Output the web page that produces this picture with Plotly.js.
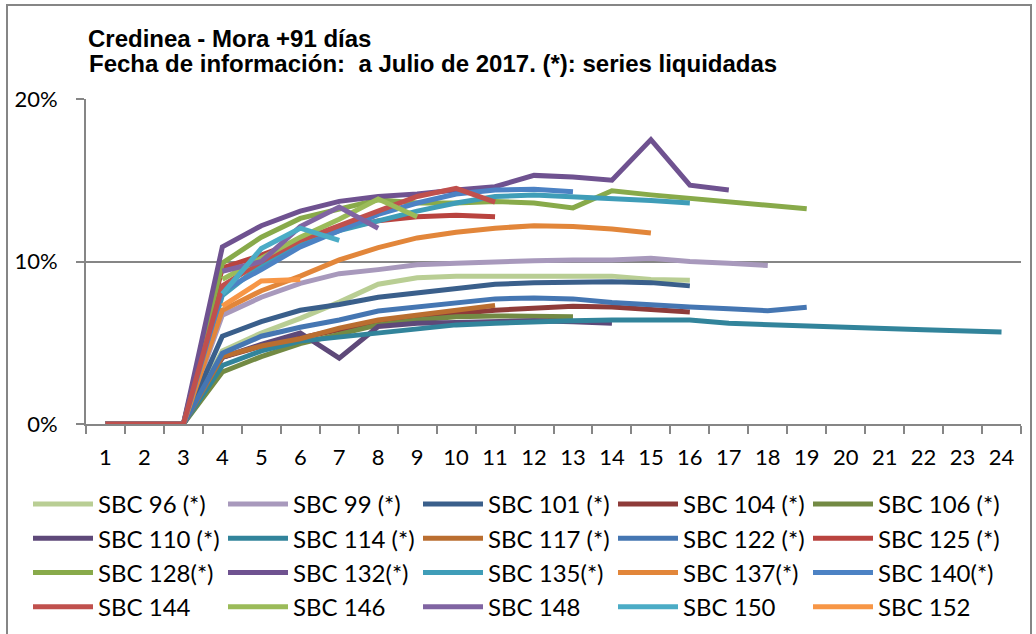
<!DOCTYPE html>
<html><head><meta charset="utf-8">
<script src="https://cdn.plot.ly/plotly-3.0.1.min.js"></script>
<style>body{margin:0;background:#fff}#chart{width:1036px;height:634px}</style>
</head><body><div id="chart"></div>
<script>
const months = [1,2,3,4,5,6,7,8,9,10,11,12,13,14,15,16,17,18,19,20,21,22,23,24];
const seriesNames = ["SBC 96 (*)","SBC 99 (*)","SBC 101 (*)","SBC 104 (*)","SBC 106 (*)",
  "SBC 110 (*)","SBC 114 (*)","SBC 117 (*)","SBC 122 (*)","SBC 125 (*)",
  "SBC 128(*)","SBC 132(*)","SBC 135(*)","SBC 137(*)","SBC 140(*)",
  "SBC 144","SBC 146","SBC 148","SBC 150","SBC 152"];
const seriesColors = ["#B9CE94","#A899BC","#3A5F8B","#8E3B39","#738A44",
  "#5E4979","#32849B","#BA6E30","#4576B2","#B9433F",
  "#88AA4A","#6F5290","#3F9DB8","#E2863A","#4C82C4",
  "#C0504D","#9BBB59","#8064A2","#4BACC6","#F79646"];
// values in %
const sbc96  = [0,0,0,4.5,5.6,6.5,7.5,8.6,9.0,9.1,9.1,9.1,9.1,9.1,8.9,8.85];
const sbc99  = [0,0,0,6.7,7.8,8.65,9.25,9.5,9.8,9.9,10.0,10.05,10.1,10.1,10.2,10.0,9.9,9.75];
const sbc101 = [0,0,0,5.4,6.3,7.0,7.35,7.8,8.05,8.3,8.6,8.7,8.75,8.75,8.7,8.5];
const sbc104 = [0,0,0,4.1,4.8,5.3,5.8,6.2,6.5,6.8,7.0,7.15,7.25,7.2,7.05,6.9];
const sbc106 = [0,0,0,3.2,4.15,4.95,5.5,6.1,6.4,6.6,6.65,6.65,6.6];
const sbc110 = [0,0,0,4.1,4.9,5.6,4.05,6.0,6.2,6.25,6.3,6.35,6.3,6.2];
const sbc114 = [0,0,0,3.6,4.5,5.1,5.35,5.6,5.9,6.1,6.2,6.3,6.35,6.4,6.4,6.4,6.2,6.1,6.03,5.95,5.87,5.8,5.74,5.66];
const sbc117 = [0,0,0,4.15,4.8,5.25,5.9,6.4,6.7,7.0,7.3];
const sbc122 = [0,0,0,4.35,5.4,5.95,6.4,6.95,7.2,7.45,7.7,7.75,7.7,7.47,7.3,7.2,7.1,6.97,7.18];
const sbc125 = [0,0,0,9.6,10.4,11.3,12.0,12.5,12.75,12.85,12.75];
const sbc128 = [0,0,0,9.9,11.5,12.65,13.2,13.8,13.6,13.6,13.7,13.6,13.3,14.35,14.1,13.9,13.7,13.45,13.25];
const sbc132 = [0,0,0,10.9,12.2,13.1,13.7,14.0,14.15,14.4,14.6,15.3,15.2,15.0,17.5,14.7,14.4];
const sbc135 = [0,0,0,7.9,9.8,11.0,11.9,12.5,13.1,13.6,14.0,14.1,14.0,13.85,13.75,13.6];
const sbc137 = [0,0,0,7.0,8.2,9.1,10.1,10.85,11.45,11.8,12.05,12.2,12.15,12.0,11.75];
const sbc140 = [0,0,0,8.2,9.5,10.9,11.9,12.9,13.6,14.15,14.4,14.45,14.3];
const sbc144 = [0,0,0,8.5,10.0,11.3,12.2,13.1,14.0,14.5,13.65];
const sbc146 = [null,null,null,8.9,10.2,11.5,12.6,13.85,12.75];
const sbc148 = [null,null,null,9.4,10.0,12.15,13.35,12.05];
const sbc150 = [null,null,null,8.0,10.8,12.05,11.3];
const sbc152 = [null,null,null,7.25,8.8,8.9];
const seriesValues = [sbc96,sbc99,sbc101,sbc104,sbc106,sbc110,sbc114,sbc117,sbc122,sbc125,
  sbc128,sbc132,sbc135,sbc137,sbc140,sbc144,sbc146,sbc148,sbc150,sbc152];
const yTicks = [0,10,20];
const yTickText = ["0%","10%","20%"];

const traces = seriesValues.map((vals,i)=>({
  type:'scatter', mode:'lines', name:seriesNames[i],
  x: months.slice(0, vals.length), y: vals,
  line:{color:seriesColors[i], width:5},
  connectgaps:false
}));

const W=1036,H=634,L=86,R=15,T=99,B=210;
const pw=W-L-R, ph=H-T-B;
const px=(x)=>(x-L)/pw, py=(y)=>(H-B-y)/ph;
const titleFont = {family:'Liberation Sans, Arial, sans-serif', size:24, color:'#000', weight:'bold'};
const bodyFont = 'Lato, Carlito, sans-serif';

const layout = {
  width:W, height:H,
  margin:{l:L,r:R,t:T,b:B,autoexpand:false},
  paper_bgcolor:'#fff', plot_bgcolor:'#fff',
  showlegend:true,
  title:{text:'Credinea - Mora +91 días', x:88/W, xanchor:'left', xref:'container',
    y:1-47/H, yanchor:'bottom', yref:'container', pad:{t:0,b:0,l:0,r:0}, font:titleFont},
  annotations:[{text:'Fecha de información:  a Julio de 2017. (*): series liquidadas',
    xref:'paper', yref:'paper', x:px(87), y:py(79), xanchor:'left', yanchor:'bottom', showarrow:false,
    font:titleFont}],
  xaxis:{type:'linear', range:[0.5,24.5], tickmode:'array', tickvals:months, ticktext:months.map(String),
    ticks:'', showgrid:false, zeroline:false, showline:true, linecolor:'#868686', linewidth:2,
    tickfont:{family:bodyFont, size:22, color:'#000'},
    minor:{tickmode:'array', tickvals:months.map(m=>m-0.5).concat([months[months.length-1]+0.5]),
      ticks:'outside', ticklen:8, tickcolor:'#868686', tickwidth:2, showgrid:false},
    ticklabelstandoff:13, fixedrange:true},
  yaxis:{range:[0,20], tickmode:'array', tickvals:yTicks, ticktext:yTickText,
    ticks:'outside', ticklen:8, tickcolor:'#868686', tickwidth:2,
    showgrid:true, gridcolor:'#868686', gridwidth:2, zeroline:false,
    showline:true, linecolor:'#868686', linewidth:2,
    tickfont:{family:bodyFont, size:22, color:'#000'},
    ticklabelstandoff:14, fixedrange:true},
  legend:{orientation:'h', x:px(28), xanchor:'left', y:py(482), yanchor:'top',
    entrywidth:120, entrywidthmode:'pixels', itemwidth:60,
    font:{family:bodyFont, size:24, color:'#000'},
    bgcolor:'rgba(0,0,0,0)', tracegroupgap:0},
  shapes:[{type:'rect', xref:'paper', yref:'paper', x0:px(7), x1:px(1031), y0:py(640), y1:py(5),
    line:{color:'#868686', width:2}, fillcolor:'rgba(0,0,0,0)', layer:'below'}]
};
Plotly.newPlot('chart', traces, layout, {staticPlot:true, displayModeBar:false});
</script></body></html>
